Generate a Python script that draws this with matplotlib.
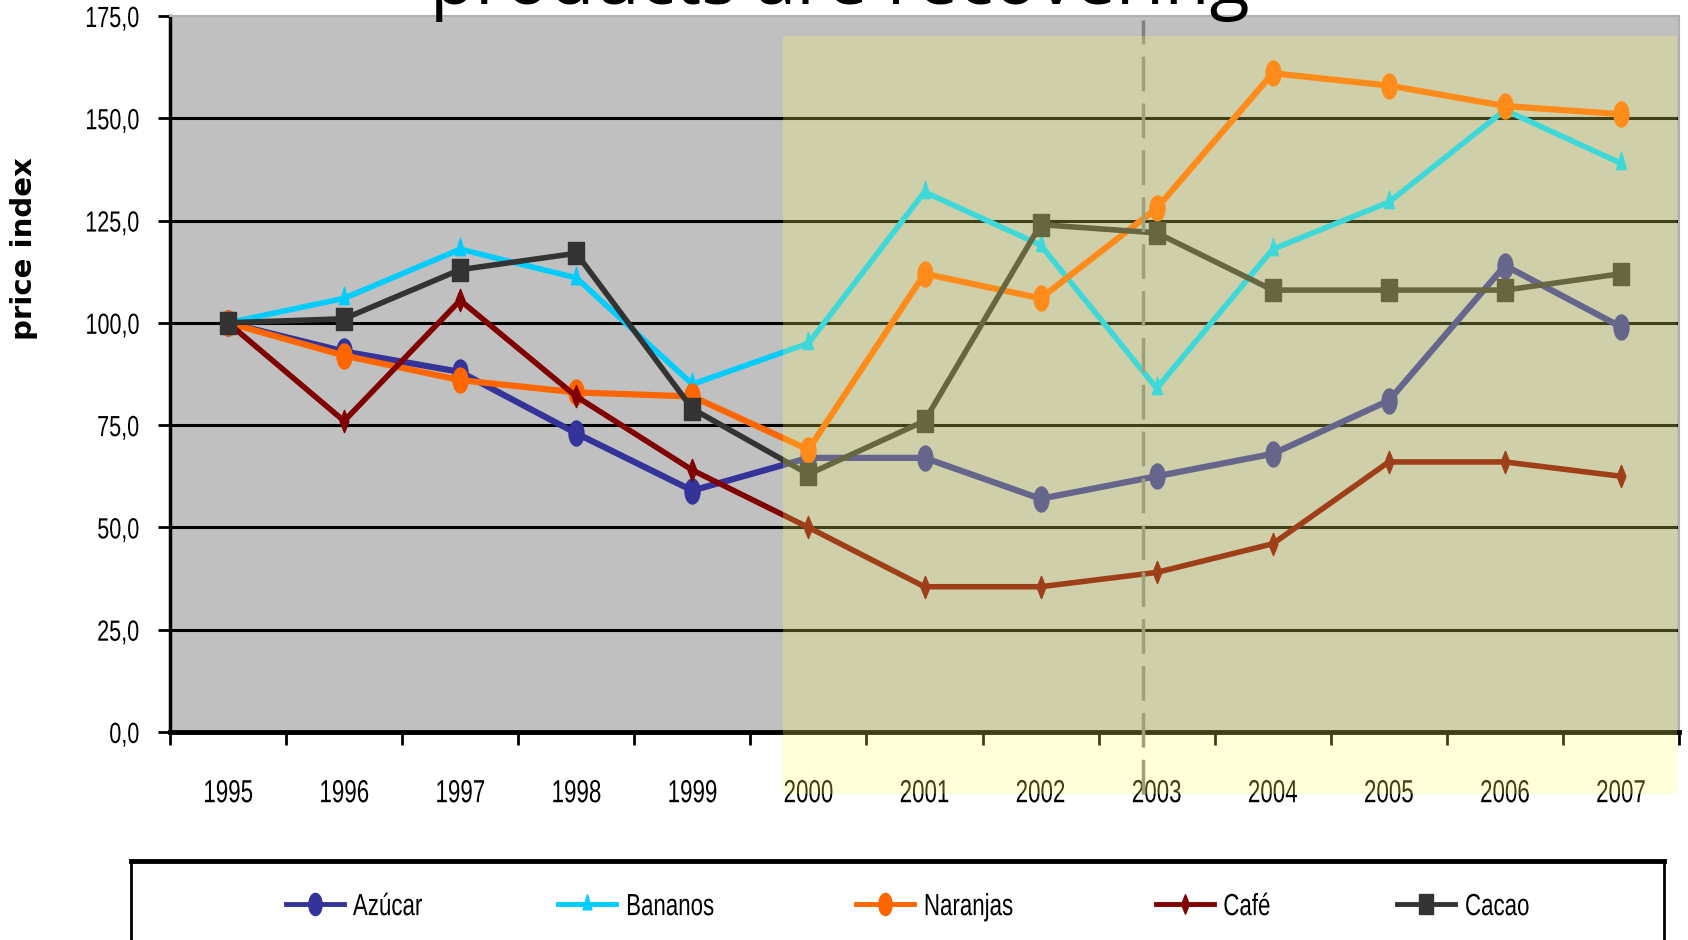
import matplotlib.pyplot as plt
from matplotlib.path import Path
from matplotlib.patches import Rectangle
from matplotlib.lines import Line2D
from matplotlib.patheffects import AbstractPathEffect
from matplotlib.transforms import Affine2D
import numpy as np

# price index, 1995 = 100
years = ['1995', '1996', '1997', '1998', '1999', '2000', '2001',
         '2002', '2003', '2004', '2005', '2006', '2007']
azucar = [100, 93, 88, 73, 59, 67, 67, 57, 62.5, 68, 81, 114, 99]
bananos = [100, 106, 118, 111, 85, 95, 132, 119, 84, 118, 129.5, 152, 139]
naranjas = [100, 92, 86, 83, 82, 69, 112, 106, 128, 161, 158, 153, 151]
cafe = [100, 76, 105.5, 82, 64, 50, 35.5, 35.5, 39, 46, 66, 66, 62.5]
cacao = [100, 101, 113, 117, 79, 63, 76, 124, 122, 108, 108, 108, 112]

names = ['Azúcar', 'Bananos', 'Naranjas', 'Café', 'Cacao']
colors = ['#333399', '#00CCFF', '#FF6600', '#800000', '#333333']
widths = [4.5, 4, 4.5, 4, 4]


class Narrow(AbstractPathEffect):
    """squeeze text horizontally (no narrow font installed)"""
    def __init__(self, sx, anchor='center'):
        super().__init__()
        self.sx = sx
        self.anchor = anchor

    def draw_path(self, renderer, gc, tpath, affine, rgbFace=None):
        ext = tpath.get_extents()
        if self.anchor == 'right':
            cx = ext.x1
        elif self.anchor == 'left':
            cx = ext.x0
        else:
            cx = (ext.x0 + ext.x1) / 2
        t = Affine2D().translate(-cx, 0).scale(self.sx, 1).translate(cx, 0) + affine
        renderer.draw_path(gc, tpath, t, rgbFace)


# stretched markers, like the original
ellipse = Path(Path.unit_circle().vertices * [0.6, 1.0], Path.unit_circle().codes)
tri = Path([(0, 1), (-0.45, -0.55), (0.45, -0.55), (0, 1)], closed=True)
diam = Path([(0, 1), (0.4, 0), (0, -1), (-0.4, 0), (0, 1)], closed=True)
rect = Path([(-0.36, -0.5), (0.36, -0.5), (0.36, 0.5), (-0.36, 0.5), (-0.36, -0.5)], closed=True)
markers = [ellipse, tri, ellipse, diam, rect]
msizes = [18, 16, 18, 16, 16]

font = ['Liberation Sans', 'DejaVu Sans']

fig = plt.figure(figsize=(16.88, 9.40), dpi=100)
ax = fig.add_axes([0.1007, 0.2213, 0.894, 0.7617])
ax.set_facecolor('#C0C0C0')

x = np.arange(len(years))
series = [azucar, bananos, naranjas, cafe, cacao]
handles = []
for vals, name, c, m, ms, lw in zip(series, names, colors, markers, msizes, widths):
    ax.plot(x, vals, color=c, lw=lw, marker=m, markersize=ms, zorder=3)
    handles.append(Line2D([], [], color=c, lw=3.5, marker=m, markersize=ms - 2))

ax.set_xlim(-0.5, len(years) - 0.5)
ax.set_ylim(0, 175)

yt = np.arange(0, 176, 25)
ax.set_yticks(yt)
ax.set_yticklabels([f'{v:.1f}'.replace('.', ',') for v in yt], family=font, fontsize=21)
ax.tick_params(axis='y', direction='out', length=9, width=2, pad=13)
ax.yaxis.grid(True, color='black', lw=2.2)
ax.set_axisbelow(True)
ax.get_ygridlines()[-1].set_visible(False)
for t in ax.get_yticklabels():
    t.set_path_effects([Narrow(0.74, 'right')])

# ticks between categories, labels at the categories
ax.set_xticks(np.arange(-0.5, len(years), 1.0))
ax.set_xticklabels([])
ax.set_xticks(x, minor=True)
ax.set_xticklabels(years, minor=True, family=font, fontsize=23)
ax.tick_params(axis='x', which='major', direction='out', length=9, width=2)
ax.tick_params(axis='x', which='minor', length=0, pad=34)
for t in ax.get_xticklabels(minor=True):
    t.set_path_effects([Narrow(0.70)])

for s in ['top', 'right']:
    ax.spines[s].set_color('#B0B0B0')
    ax.spines[s].set_linewidth(1.5)
ax.spines['left'].set_linewidth(2.5)
ax.spines['bottom'].set_linewidth(3.5)

# highlighted period and marker line
ax.plot([7.88, 7.88], [-15.2, 174], color='#808080', lw=2.5, ls=(0, (10, 3.5)),
        zorder=4, clip_on=False)
ax.add_patch(Rectangle((4.78, -15.2), 12.48 - 4.78, 170.1 + 15.2, facecolor=(1, 1, 0.41),
                       alpha=0.25, lw=0, zorder=5, clip_on=False))

fig.text(840 / 1688, 1 - 4 / 940, 'products are recovering', ha='center', va='baseline',
         fontsize=53, family=['Open Sans', 'DejaVu Sans'])
fig.text(24 / 1688, 1 - 249 / 940, 'price index', rotation=90, ha='center', va='center',
         fontsize=21, fontweight='bold')

# legend box running off the bottom edge
fig.add_artist(Rectangle((131 / 1688, -0.05), (1664 - 131) / 1688, 0.05 + 0.084,
                         transform=fig.transFigure, fill=False, ec='black', lw=2))
fig.add_artist(Line2D([131 / 1688, 1664 / 1688], [0.084, 0.084], transform=fig.transFigure,
                      color='black', lw=3.5))
leg = fig.legend(handles, names, loc='center', bbox_to_anchor=(0.162, 0.015, 0.765, 0.04),
                 mode='expand', ncol=5, frameon=False, prop={'family': font, 'size': 22},
                 handlelength=1.9, handletextpad=0.3, borderaxespad=0)
for t in leg.get_texts():
    t.set_path_effects([Narrow(0.73, 'left')])

fig.savefig('out.png', dpi=100)
